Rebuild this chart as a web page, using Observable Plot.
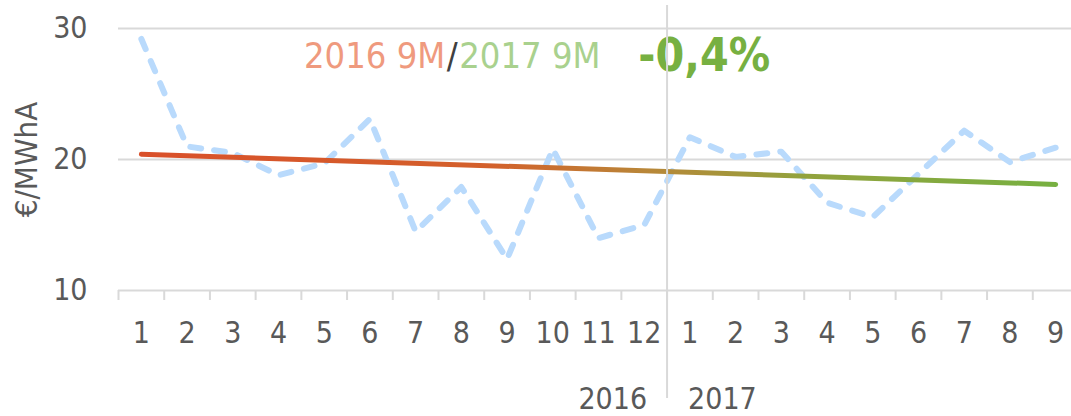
<!DOCTYPE html>
<html>
<head>
<meta charset="utf-8">
<script src="https://cdn.jsdelivr.net/npm/d3@7"></script>
<script src="https://cdn.jsdelivr.net/npm/@observablehq/plot@0.6"></script>
<style>
  html, body { margin: 0; padding: 0; background: #ffffff; }
  #chart { width: 1071px; height: 416px; overflow: hidden; }
</style>
</head>
<body>
<div id="chart"></div>
<script>
// Category tick labels (months) and years
const months = ["1","2","3","4","5","6","7","8","9","10","11","12","1","2","3","4","5","6","7","8","9"];
const years = ["2016", "2017"];
// Monthly values (€/MWhA)
const values = [29.2, 21.0, 20.5, 18.8, 19.7, 23.1, 14.5, 17.9, 12.4, 20.8, 14.0, 15.0,
                21.7, 20.2, 20.6, 16.7, 15.6, 18.9, 22.2, 19.8, 20.9];
// Trend line: value at first and last month
const trend = [20.4, 18.1];
const yTicks = [10, 20, 30];
const yLabel = "€/MWhA";
const annLeft = "2016 9M";
const annSlash = "/";
const annRight = "2017 9M";
const annChange = "-0,4%";

const data = months.map((m, i) => ({x: i + 0.5, m, v: values[i]}));
const trendData = [
  {x: 0.5, v: trend[0]},
  {x: months.length - 0.5, v: trend[1]}
];
const boundaries = d3.range(0, months.length + 1);
const yearSplit = 12;

const font = "'DejaVu Sans Condensed', 'DejaVu Sans', Tahoma, sans-serif";

const gradientDefs = () => {
  const defs = d3.create("svg:defs");
  const g = defs.append("linearGradient").attr("id", "trendGrad")
    .attr("x1", "0").attr("x2", "1").attr("y1", "0").attr("y2", "0");
  [[0, "#d9502a"], [0.38, "#d3602b"], [0.55, "#b98638"], [0.72, "#93a23d"], [1, "#77b041"]]
    .forEach(([o, c]) => g.append("stop").attr("offset", o).attr("stop-color", c));
  return defs.node();
};

const chart = Plot.plot({
  width: 1071,
  height: 416,
  marginLeft: 118,
  marginRight: -7,
  marginTop: 28,
  marginBottom: 126,
  x: {domain: [0, months.length], label: null, axis: null},
  y: {domain: [10, 30], label: null, axis: null},
  style: {fontFamily: font, fontSize: "30px", background: "#ffffff", color: "#595959", overflow: "visible"},
  marks: [
    gradientDefs,
    Plot.ruleY([20, 30], {stroke: "#d9d9d9", strokeWidth: 2}),
    Plot.ruleY([10], {stroke: "#d9d9d9", strokeWidth: 2}),
    Plot.axisX(boundaries, {tickSize: 10, tickFormat: () => "", stroke: "#d9d9d9", strokeWidth: 2, label: null}),
    Plot.axisX(data.map(d => d.x), {
      tickSize: 0, tickPadding: 31, fontSize: 30, fill: "#595959", label: null,
      tickFormat: d => months[Math.floor(d)]
    }),
    Plot.axisY(yTicks, {tickSize: 0, tickPadding: 31, fontSize: 30, fill: "#595959", label: null}),
    Plot.text([yLabel], {
      frameAnchor: "left", y: 20, dx: -91, rotate: -90, fontSize: 31, fill: "#595959", textAnchor: "middle"
    }),
    Plot.text([years[0]], {x: yearSplit, frameAnchor: "bottom", dy: 118, dx: -20, textAnchor: "end", fontSize: 30, fill: "#595959"}),
    Plot.text([years[1]], {x: yearSplit, frameAnchor: "bottom", dy: 118, dx: 21, textAnchor: "start", fontSize: 30, fill: "#595959"}),
    Plot.line(data, {
      x: "x", y: "v", stroke: "#b9dafc", strokeWidth: 6, strokeDasharray: "11,13",
      strokeLinecap: "round", strokeLinejoin: "round"
    }),
    Plot.line(trendData, {
      x: "x", y: "v", stroke: "url(#trendGrad)", strokeWidth: 5, strokeLinecap: "round"
    }),
    Plot.text([annLeft], {x: 7.3, y: 27.9, dx: -7, textAnchor: "end", fontSize: 36, fill: "#ef9a7e"}),
    Plot.text([annSlash], {x: 7.3, y: 27.9, textAnchor: "middle", fontSize: 36, fill: "#404040"}),
    Plot.text([annRight], {x: 7.3, y: 27.9, dx: 7, textAnchor: "start", fontSize: 36, fill: "#a9d18e"}),
    Plot.text([annChange], {x: 11.37, y: 27.9, textAnchor: "start", fontSize: 46, fontWeight: "bold", fill: "#77b041"}),
    Plot.ruleX([yearSplit], {stroke: "#d9d9d9", strokeWidth: 2, insetTop: -23, insetBottom: -108})
  ]
});
document.getElementById("chart").append(chart);
</script>
</body>
</html>
